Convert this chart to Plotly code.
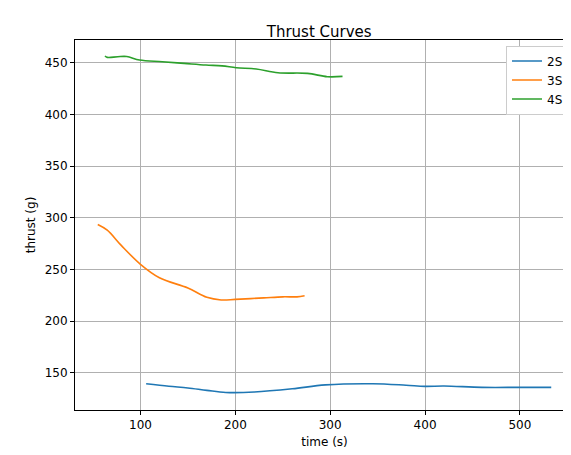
import plotly.graph_objects as go

# values
t_2s = [106, 130, 150, 170, 190, 220, 260, 295, 345, 380, 400, 420, 460, 500, 533]
f_2s = [139.4, 137.0, 135.3, 133.0, 131.0, 131.4, 134.5, 138.3, 139.4, 138.0, 136.9, 137.2, 135.9, 135.9, 135.9]

t_3s = [55, 65, 80, 100, 120, 150, 170, 185, 200, 230, 250, 265, 273]
f_3s = [293.5, 288, 273, 255, 242, 232, 223, 220.5, 221, 222.5, 223.5, 223.5, 224.5]

t_4s = [62.6, 65, 76, 85.5, 99, 123, 146, 169, 186, 201, 222, 245, 276, 297, 313]
f_4s = [456.5, 455.2, 455.8, 456, 452.6, 451, 449.4, 447.8, 447, 445.2, 443.9, 440.3, 439.7, 436.5, 436.8]

fig = go.Figure()
for name, t, f, c in [("2S", t_2s, f_2s, "#1f77b4"),
                      ("3S", t_3s, f_3s, "#ff7f0e"),
                      ("4S", t_4s, f_4s, "#2ca02c")]:
    fig.add_trace(go.Scatter(x=t, y=f, mode="lines", name=name,
                             line=dict(color=c, width=1.6, shape="spline")))

axis = dict(showgrid=True, gridcolor="#b0b0b0", gridwidth=0.8, zeroline=False,
            showline=True, linecolor="black", mirror=True, ticks="outside",
            ticklen=4, tickcolor="black", tickfont=dict(size=12, color="black"))
fig.update_layout(
    title=dict(text="Thrust Curves", x=0.545, xanchor="center", y=0.96,
               font=dict(size=15, color="black")),
    xaxis=dict(axis, range=[31, 557], dtick=100,
               title=dict(text="time (s)", font=dict(size=12), standoff=6)),
    yaxis=dict(axis, range=[114, 472], dtick=50,
               title=dict(text="thrust (g)", font=dict(size=12), standoff=6)),
    font=dict(family="DejaVu Sans", color="black"),
    plot_bgcolor="white", paper_bgcolor="white",
    legend=dict(x=0.99, y=0.985, xanchor="right", yanchor="top",
                bordercolor="#cccccc", borderwidth=1, font=dict(size=12)),
    margin=dict(l=67, r=5, t=32, b=53),
    width=571, height=455,
)

fig.write_html("out.html")
